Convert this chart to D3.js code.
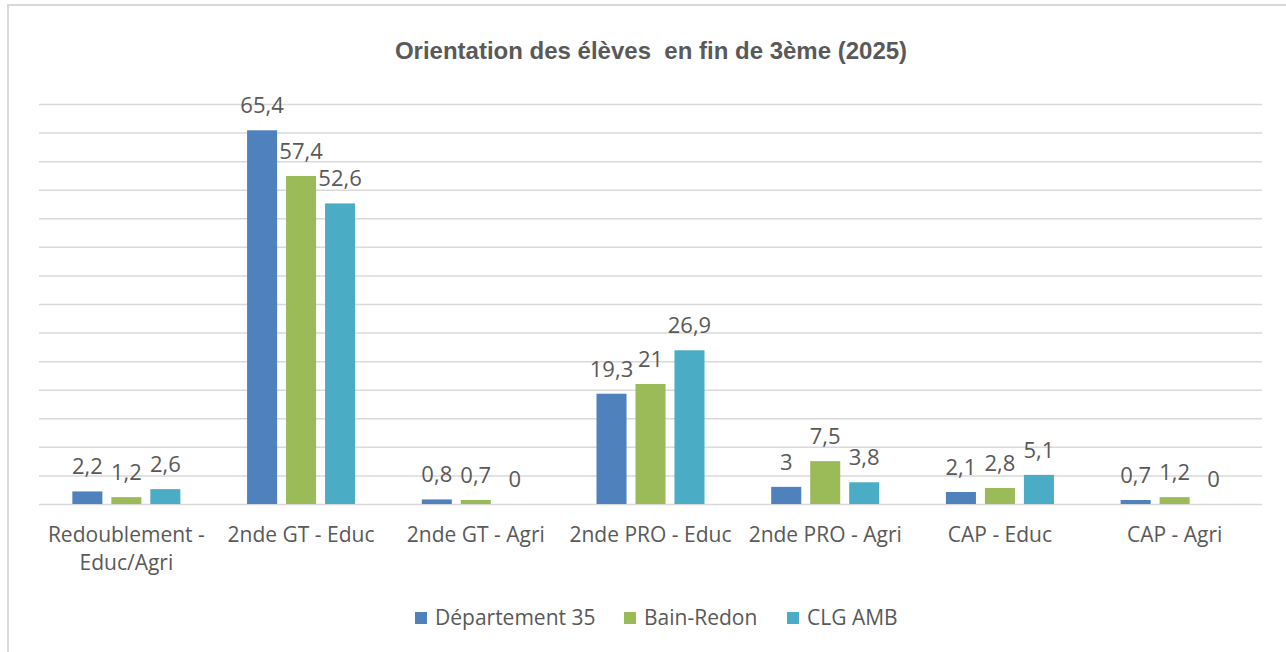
<!DOCTYPE html>
<html>
<head>
<meta charset="utf-8">
<script src="https://cdn.jsdelivr.net/npm/d3@7"></script>
<style>
  body { margin: 0; background: #fff; overflow: hidden; }
  svg text { font-family: "Open Sans", "Noto Sans", sans-serif; fill: #595959; }
</style>
</head>
<body>
<div class="chart"></div>
<script>
var width = 1286
var height = 652

var categories = ["Redoublement -\nEduc/Agri", "2nde GT - Educ", "2nde GT - Agri", "2nde PRO - Educ", "2nde PRO - Agri", "CAP - Educ", "CAP - Agri"]
var seriesNames = ["Département 35", "Bain-Redon", "CLG AMB"]
var dep35 = [2.2, 65.4, 0.8, 19.3, 3, 2.1, 0.7]
var bainRedon = [1.2, 57.4, 0.7, 21, 7.5, 2.8, 1.2]
var clgAmb = [2.6, 52.6, 0, 26.9, 3.8, 5.1, 0]
var yTicks = d3.range(0, 71, 5)
var colors = ["#4F81BD", "#9BBB59", "#4BACC6"]

var margin = { top: 104, bottom: 148, left: 39, right: 24 }
var plotWidth = width - margin.left - margin.right
var plotHeight = height - margin.top - margin.bottom

var seriesValues = [dep35, bainRedon, clgAmb]
var data = categories.map((c, i) => ({
    category: c,
    values: seriesNames.map((s, j) => ({ series: s, value: seriesValues[j][i], idx: j }))
}))

var svg = d3.select('.chart').append('svg')
    .attr('width', width)
    .attr('height', height)
    .style('display', 'block')

// frame (right and bottom edges fall outside the picture)
svg.append('rect')
    .attr('x', 8).attr('y', 5)
    .attr('width', width + 10).attr('height', height + 10)
    .attr('fill', 'none')
    .attr('stroke', '#d9d9d9')
    .attr('stroke-width', 2)

svg.append('text')
    .attr('x', 651)
    .attr('y', 59)
    .attr('text-anchor', 'middle')
    .style('white-space', 'pre')
    .style('font-family', '"Liberation Sans", Arial, sans-serif')
    .style('font-weight', 'bold')
    .style('font-size', '24px')
    .text('Orientation des élèves  en fin de 3ème (2025)')

var scaleX = d3.scaleBand().domain(categories).range([0, plotWidth])
var bw = scaleX.bandwidth()
var scaleX1 = d3.scaleBand().domain(seriesNames)
    .range([bw / 2 - 54, bw / 2 + 54]).paddingInner(0.23)
var scaleY = d3.scaleLinear().domain([0, 70]).range([plotHeight, 0])

var g = svg.append('g')
    .attr('transform', 'translate(' + margin.left + ',' + margin.top + ')')

g.append('g')
    .call(d3.axisLeft(scaleY).tickValues(yTicks).tickSize(-plotWidth).tickFormat(''))
    .call(ax => ax.select('.domain').remove())
    .call(ax => ax.selectAll('line').attr('stroke', '#d9d9d9').attr('stroke-width', 1.5))

var groups = g.selectAll('.grp').data(data).enter().append('g')
    .attr('transform', d => 'translate(' + scaleX(d.category) + ',0)')

groups.selectAll('rect').data(d => d.values).enter().append('rect')
    .attr('x', d => scaleX1(d.series))
    .attr('width', scaleX1.bandwidth())
    .attr('y', d => scaleY(d.value))
    .attr('height', d => plotHeight - scaleY(d.value))
    .attr('fill', d => colors[d.idx])

groups.selectAll('.lbl').data(d => d.values).enter().append('text')
    .attr('class', 'lbl')
    .attr('x', d => scaleX1(d.series) + scaleX1.bandwidth() / 2)
    .attr('y', d => scaleY(d.value) - 17)
    .attr('text-anchor', 'middle')
    .style('font-size', '22px')
    .text(d => String(d.value).replace('.', ','))

// category labels
var catLabels = g.selectAll('.cat').data(categories).enter().append('text')
    .attr('class', 'cat')
    .attr('x', d => scaleX(d) + bw / 2)
    .attr('y', plotHeight + 38)
    .attr('text-anchor', 'middle')
    .style('font-size', '21px')
catLabels.selectAll('tspan').data(d => d.split('\n')).enter().append('tspan')
    .attr('x', function () { return d3.select(this.parentNode).attr('x') })
    .attr('dy', (d, i) => i == 0 ? 0 : 28)
    .text(d => d)

// legend
var legendX = [415, 624, 787]
var legend = svg.selectAll('.leg').data(seriesNames).enter().append('g')
    .attr('transform', (d, i) => 'translate(' + legendX[i] + ',612)')
legend.append('rect')
    .attr('width', 12).attr('height', 12)
    .attr('fill', (d, i) => colors[i])
legend.append('text')
    .attr('x', 20)
    .attr('y', 13)
    .style('font-size', '21px')
    .text(d => d)
</script>
</body>
</html>
